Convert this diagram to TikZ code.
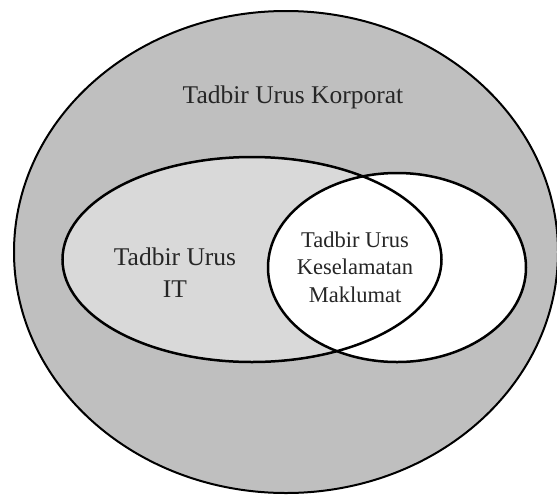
\documentclass[tikz,border=0pt]{standalone}
\usepackage{fontspec}
\setmainfont{Liberation Serif}
\begin{document}
\begin{tikzpicture}[x=1pt,y=-1pt,
  outerline/.style={line width=2pt,draw=black},
  innerline/.style={line width=2.5pt,draw=black},
  biglabel/.style={anchor=base,inner sep=0pt,font=\fontsize{25.5}{30}\selectfont,text=black!85},
  smalllabel/.style={anchor=base,inner sep=0pt,font=\fontsize{22.5}{27}\selectfont,text=black!85}]
\useasboundingbox (0,0) rectangle (557,496);
\definecolor{corpgrey}{RGB}{191,191,191}
\definecolor{itgrey}{RGB}{217,217,217}
% corporate governance
\fill[corpgrey] (286,252) ellipse [x radius=272, y radius=241];
\draw[outerline] (286,252) ellipse [x radius=272, y radius=241];
% IT governance and information security governance
\fill[itgrey] (252,259.5) ellipse [x radius=189.5, y radius=102.5];
\fill[white] (397,267.5) ellipse [x radius=129, y radius=94.5];
\draw[innerline] (252,259.5) ellipse [x radius=189.5, y radius=102.5];
\draw[innerline] (397,267.5) ellipse [x radius=129, y radius=94.5];
% labels
\node[biglabel] (korporat) at (293,103) {Tadbir Urus Korporat};
\node[biglabel] (it1) at (175,265) {Tadbir Urus};
\node[biglabel] (it2) at (175,297) {IT};
\node[smalllabel] (ks1) at (355,247) {Tadbir Urus};
\node[smalllabel] (ks2) at (355,274.5) {Keselamatan};
\node[smalllabel] (ks3) at (355,302) {Maklumat};
\end{tikzpicture}
\end{document}
